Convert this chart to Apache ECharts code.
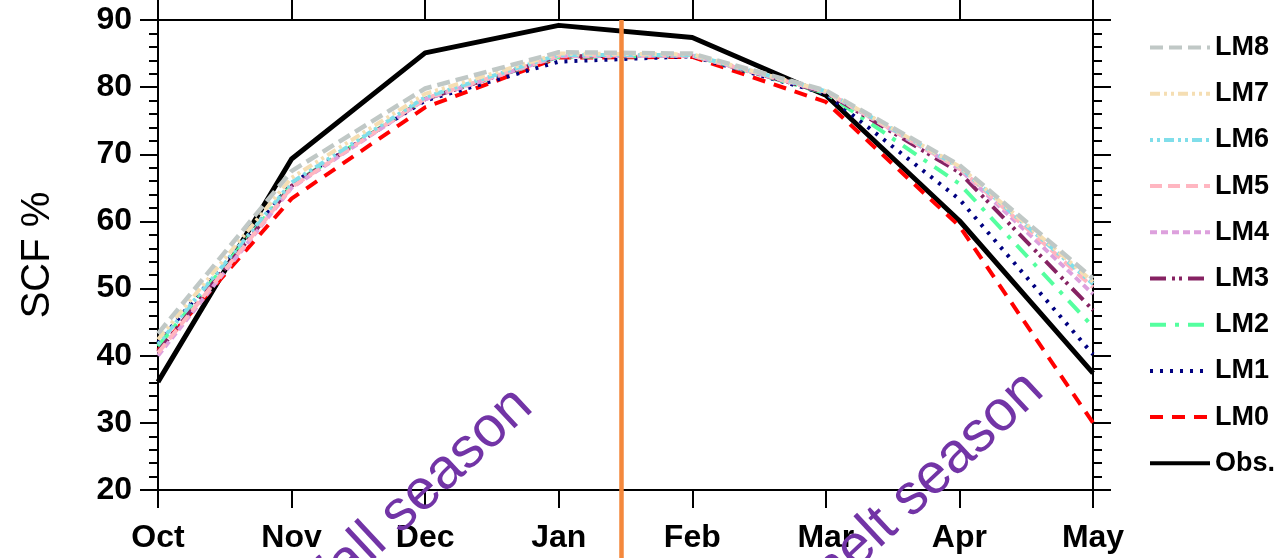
<!DOCTYPE html>
<html><head><meta charset="utf-8">
<script src="https://cdn.jsdelivr.net/npm/echarts@6/dist/echarts.min.js"></script>
<style>html,body{margin:0;padding:0;background:#fff;}#c{width:1276px;height:558px;}</style>
</head><body><div id="c"></div>
<script>
// ---- data ----
const months = ['Oct','Nov','Dec','Jan','Feb','Mar','Apr','May'];
const yMin = 20, yMax = 90, yStep = 10;
const obs = [36.1, 69.3, 85.1, 89.2, 87.4, 78.8, 60.1, 37.4];
const lm0 = [40.8, 63.4, 77.0, 84.4, 84.5, 77.8, 59.3, 30.0];
const lm1 = [41.9, 65.6, 78.0, 83.8, 84.6, 79.0, 63.3, 40.2];
const lm2 = [41.4, 65.4, 78.3, 84.5, 84.7, 79.1, 65.6, 44.3];
const lm3 = [40.6, 65.3, 78.2, 84.6, 84.7, 79.2, 67.3, 46.8];
const lm4 = [40.0, 65.0, 78.2, 84.6, 84.7, 79.3, 67.8, 49.2];
const lm5 = [40.4, 65.1, 78.3, 84.7, 84.7, 79.3, 67.9, 50.2];
const lm6 = [41.7, 65.8, 78.5, 84.8, 84.8, 79.4, 68.1, 50.7];
const lm7 = [42.4, 66.5, 79.0, 85.0, 84.9, 79.4, 68.2, 51.0];
const lm8 = [43.3, 67.5, 79.8, 85.2, 85.0, 79.5, 68.4, 51.5];
const yName = 'SCF %';
const seasonLabels = ['Snowfall season', 'Snowmelt season'];

// ---- styles ----
const FONT = '"Liberation Sans", Helvetica, Arial, sans-serif';
const seriesDefs = [
  {name:'Obs.', data:obs, color:'#000000', width:5, type:'solid'},
  {name:'LM0', data:lm0, color:'#ff0000', width:4, type:[13,9]},
  {name:'LM1', data:lm1, color:'#000080', width:4, type:[3,7]},
  {name:'LM2', data:lm2, color:'#54ff9f', width:4, type:[16,9,4,9]},
  {name:'LM3', data:lm3, color:'#862262', width:4, type:[16,6,3,4,3,6]},
  {name:'LM4', data:lm4, color:'#dda0dd', width:4, type:[7,4]},
  {name:'LM5', data:lm5, color:'#ffb6c1', width:4, type:[12,6]},
  {name:'LM6', data:lm6, color:'#80deea', width:4, type:[3,4,3,4,10,4]},
  {name:'LM7', data:lm7, color:'#f5deb3', width:4, type:[10,4,3,4,3,4]},
  {name:'LM8', data:lm8, color:'#c0c8c6', width:4.5, type:[13,6]}
];

const axisLine = {show:true, lineStyle:{color:'#000', width:2}};
const tickStyle = {color:'#000', width:2};
const tickFont = {fontFamily:FONT, fontWeight:'bold', fontSize:32, color:'#000'};

const option = {
  animation:false,
  backgroundColor:'#fff',
  grid:{left:158, right:183, top:20, bottom:68, outerBoundsMode:'none', containLabel:false},
  legend:{
    orient:'vertical', left:1148, top:34, padding:0,
    itemWidth:60, itemHeight:26, itemGap:19.2,
    data:['LM8','LM7','LM6','LM5','LM4','LM3','LM2','LM1','LM0','Obs.'],
    itemStyle:{opacity:0, borderWidth:0},
    lineStyle:{width:4},
    textStyle:{fontFamily:FONT, fontWeight:'bold', fontSize:27, color:'#000', lineHeight:26}
  },
  xAxis:[
    {type:'category', data:months, boundaryGap:false, position:'bottom',
     axisLine:axisLine, axisTick:{show:true, inside:false, length:18, lineStyle:tickStyle, alignWithLabel:true},
     axisLabel:Object.assign({margin:32}, tickFont),
     splitLine:{show:false}},
    {type:'category', data:months, boundaryGap:false, position:'top',
     axisLine:axisLine, axisTick:{show:true, inside:false, length:20, lineStyle:tickStyle},
     axisLabel:{show:false}, splitLine:{show:false}}
  ],
  yAxis:[
    {type:'value', min:yMin, max:yMax, interval:yStep, position:'left',
     name:yName, nameLocation:'middle', nameGap:100, nameRotate:90,
     nameTextStyle:{fontFamily:FONT, fontSize:40, color:'#000'},
     axisLine:axisLine, axisTick:{show:true, inside:false, length:18, lineStyle:tickStyle},
     minorTick:{show:true, splitNumber:5, length:9, lineStyle:tickStyle},
     axisLabel:Object.assign({margin:26}, tickFont),
     splitLine:{show:false}, minorSplitLine:{show:false}},
    {type:'value', min:yMin, max:yMax, interval:yStep, position:'right',
     axisLine:axisLine, axisTick:{show:true, inside:false, length:18, lineStyle:tickStyle},
     minorTick:{show:true, splitNumber:5, length:9, lineStyle:tickStyle},
     axisLabel:{show:false}, splitLine:{show:false}, minorSplitLine:{show:false}}
  ],
  series: seriesDefs.map(d => ({
    name:d.name, type:'line', data:d.data, xAxisIndex:0, yAxisIndex:0,
    symbol:'none', showSymbol:false, smooth:false,
    lineStyle:{color:d.color, width:d.width, type:d.type, cap:'butt', join:'round'},
    itemStyle:{color:d.color},
    emphasis:{disabled:true}
  }))
};

const chart = echarts.init(document.getElementById('c'), null, {renderer:'canvas'});
chart.setOption(option);

const xJ = chart.convertToPixel({xAxisIndex:0}, 'Jan');
const xF = chart.convertToPixel({xAxisIndex:0}, 'Feb');
const yTop = chart.convertToPixel({yAxisIndex:0}, yMax);
const xSplit = xJ + (xF - xJ) * 0.47;
const H = chart.getHeight();
const textAngle = 43 * Math.PI / 180;

chart.setOption({
  graphic:[
    {type:'line', z:100, shape:{x1:xSplit, y1:yTop, x2:xSplit, y2:H},
     style:{stroke:'#f4883c', lineWidth:4.5}},
    {type:'text', z:101, x:524, y:398, rotation:textAngle,
     style:{text:seasonLabels[0], fill:'#7234a6', font:'57px ' + FONT, align:'right', verticalAlign:'middle'}},
    {type:'text', z:101, x:1035, y:382, rotation:textAngle,
     style:{text:seasonLabels[1], fill:'#7234a6', font:'57px ' + FONT, align:'right', verticalAlign:'middle'}}
  ]
});
</script>
</body></html>
